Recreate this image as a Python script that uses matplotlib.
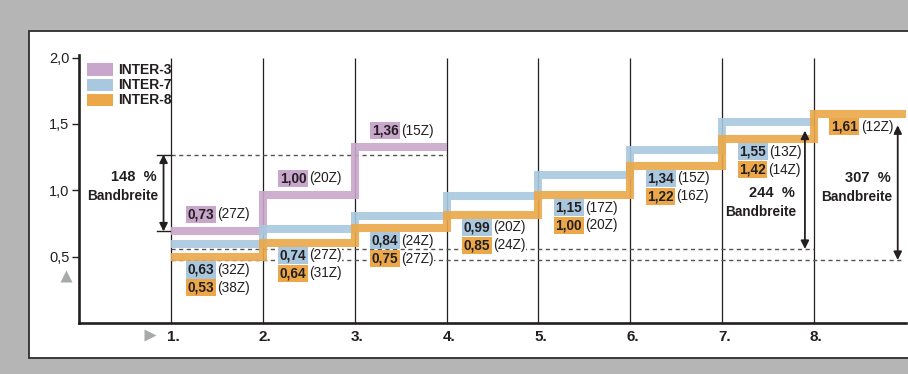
import matplotlib
matplotlib.use("Agg")
from matplotlib import pyplot as plt
from matplotlib.patches import Rectangle
from matplotlib.lines import Line2D

plt.rcParams['font.family'] = ['Liberation Sans', 'DejaVu Sans']

# --- data -------------------------------------------------------------
gears = [1, 2, 3, 4, 5, 6, 7, 8]
gear_labels = ['1.', '2.', '3.', '4.', '5.', '6.', '7.', '8.']

series_names = ['INTER-3', 'INTER-7', 'INTER-8']
inter3 = [0.73, 1.00, 1.36]
inter3_teeth = [27, 20, 15]
inter7 = [0.63, 0.74, 0.84, 0.99, 1.15, 1.34, 1.55]
inter7_teeth = [32, 27, 24, 20, 17, 15, 13]
inter8 = [0.53, 0.64, 0.75, 0.85, 1.00, 1.22, 1.42, 1.61]
inter8_teeth = [38, 31, 27, 24, 20, 16, 14, 12]

span_labels = ['148  %', '244  %', '307  %']
span_low = [0.69, 0.558, 0.475]
span_high = [1.27, 1.45, 1.49]

yticks = [0.5, 1.0, 1.5, 2.0]
ytick_labels = ['0,5', '1,0', '1,5', '2,0']

# --- style ------------------------------------------------------------
W, H = 908, 374
DARK = '#231f20'
colors = ['#c9a6cb', '#a9c8df', '#eca848']
band_shift = -0.035   # bands sit slightly under the printed value
band_lw = 5.8
FS = 9.8

fig = plt.figure(figsize=(W / 100, H / 100), dpi=100, facecolor='#b4b5b4')
fig.patches.append(Rectangle((29 / W, 1 - 358 / H), 1.0, (358 - 31) / H,
                             transform=fig.transFigure, fc='white',
                             ec='#2e2c2c', lw=1.3, zorder=-5))

ax = fig.add_axes([79 / W, 1 - 323 / H, (906 - 79) / W, (323 - 55) / H])
ax.set_zorder(1)
ax.patch.set_alpha(0)
ax.set_xlim(0, 9.0)
ax.set_ylim(0, 2.02)

for s in ['top', 'right']:
    ax.spines[s].set_visible(False)
for s in ['left', 'bottom']:
    ax.spines[s].set_linewidth(1.9)
    ax.spines[s].set_color(DARK)
    ax.spines[s].set_capstyle('projecting')

ax.set_xticks([])
ax.set_yticks(yticks)
ax.set_yticklabels(ytick_labels)
ax.tick_params(axis='y', direction='out', length=5, width=1, color=DARK,
               labelsize=10.5, labelcolor=DARK, pad=2)

# gear lines and labels
ax.vlines(gears, 0, 2.0, color=DARK, lw=0.9, zorder=1)
for g, lab in zip(gears, gear_labels):
    ax.annotate(lab, xy=(g, 0), xytext=(-3, -10), textcoords='offset points',
                ha='left', va='center', fontsize=11, fontweight='bold',
                color=DARK, annotation_clip=False)

# dashed helper lines + bandwidth arrows
dash = dict(color='#555555', lw=1.0, ls=(0, (3, 2.5)), zorder=1.5)
ax.plot([1, 4], [span_high[0]] * 2, **dash)
ax.plot([0.85, 1.0], [span_high[0]] * 2, color=DARK, lw=1.0)
ax.plot([0.85, 1.0], [span_low[0]] * 2, color=DARK, lw=1.0)
ax.plot([1, 8], [span_low[1]] * 2, **dash)
ax.plot([1, 8.96], [span_low[2]] * 2, **dash)

arrow_x = [0.92, 7.9, 8.91]
text_x = [0.85, 7.79, 8.83]
text_y = [1.10, 0.977, 1.093]
for x, lo, hi, tx, ty, lab in zip(arrow_x, span_low, span_high, text_x, text_y, span_labels):
    ax.annotate('', xy=(x, hi), xytext=(x, lo),
                arrowprops=dict(arrowstyle='<|-|>', color=DARK, lw=1.3,
                                mutation_scale=12, shrinkA=0, shrinkB=0),
                zorder=3)
    ax.text(tx, ty, lab, ha='right', va='center', fontsize=10.5,
            fontweight='bold', color=DARK)
    ax.text(tx + 0.015, ty - 0.142, 'Bandbreite', ha='right', va='center',
            fontsize=9.8, fontweight='bold', color=DARK)

# step bands
all_vals = [inter3, inter7, inter8]
for vals, c in zip(all_vals, colors):
    n = len(vals)
    xs = gears[:n] + [n + 1]
    ys = [v + band_shift for v in vals] + [vals[-1] + band_shift]
    ax.plot(xs, ys, drawstyle='steps-post', color=c, lw=band_lw, alpha=0.9,
            solid_joinstyle='miter', solid_capstyle='butt', zorder=2)


def value_label(x, y, val, teeth, color):
    t = ax.text(x, y, f'{val:.2f}'.replace('.', ','), ha='left', va='center',
                fontsize=FS, fontweight='bold', color=DARK, zorder=4,
                bbox=dict(boxstyle='square,pad=0.12', fc=color, ec='none'))
    ax.annotate(f'({teeth}Z)', xy=(1, 0.5), xycoords=t, xytext=(2, 0),
                textcoords='offset points', ha='left', va='center',
                fontsize=FS, color=DARK, zorder=4,
                bbox=dict(boxstyle='square,pad=0.05', fc='white', ec='none'))


lx = 0.185
for g, v, tz in zip(gears, inter3, inter3_teeth):
    value_label(g + lx, v + 0.09, v, tz, colors[0])

for i, g in enumerate(gears):
    top = inter8[i] - 0.13
    if i < len(inter7):
        value_label(g + lx, top, inter7[i], inter7_teeth[i], colors[1])
        value_label(g + lx, top - 0.135, inter8[i], inter8_teeth[i], colors[2])
    else:
        value_label(g + lx, top, inter8[i], inter8_teeth[i], colors[2])

# legend
for k, (name, c) in enumerate(zip(series_names, colors)):
    yc = 69.5 + k * 15.3
    fig.patches.append(Rectangle((87 / W, 1 - (yc + 6) / H), 26 / W, 12 / H,
                                 transform=fig.transFigure, fc=c, ec='none',
                                 zorder=5))
    fig.text(118 / W, 1 - yc / H, name, ha='left', va='center', fontsize=10,
             fontweight='bold', color=DARK, zorder=5)

# grey marker triangles
fig.add_artist(Line2D([66 / W], [1 - 276 / H], marker='^', ms=8.5,
                      color='#a7a9ab', mec='none', transform=fig.transFigure))
fig.add_artist(Line2D([150 / W], [1 - 335 / H], marker='>', ms=8.5,
                      color='#a7a9ab', mec='none', transform=fig.transFigure))

fig.savefig('out.png', dpi=100, facecolor=fig.get_facecolor())
